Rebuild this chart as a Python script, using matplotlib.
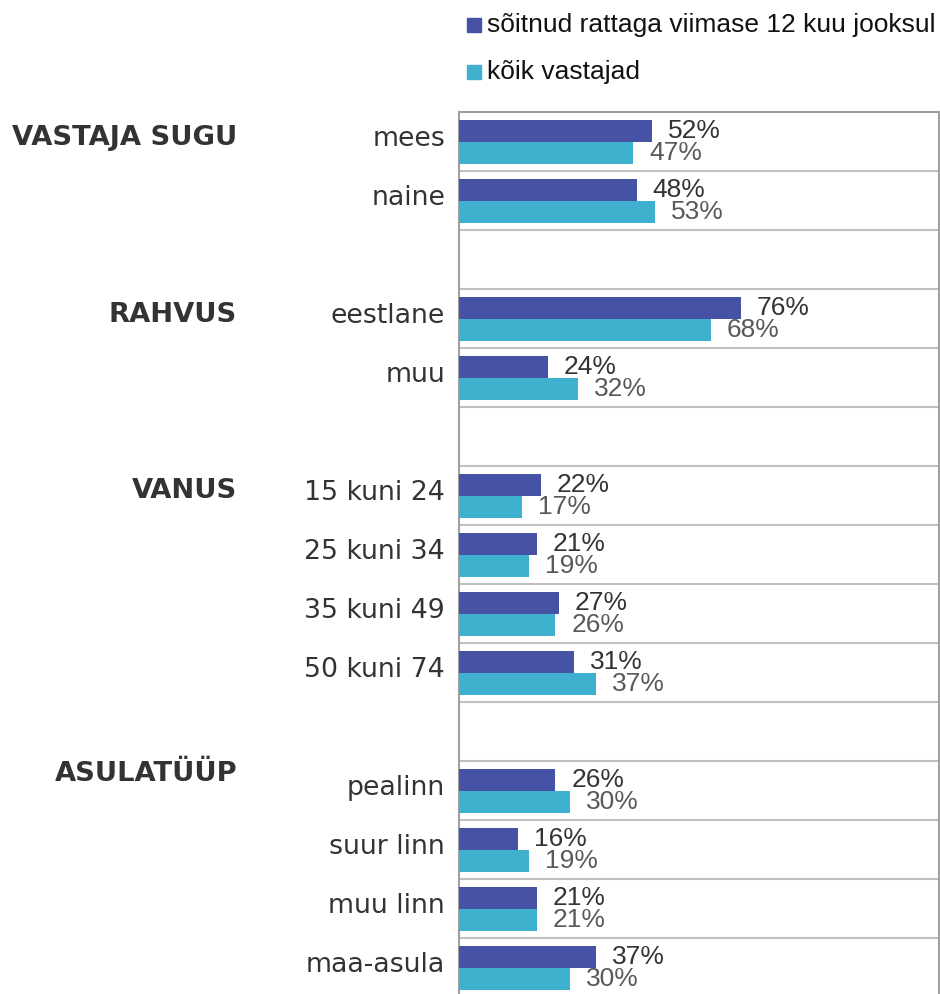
import matplotlib
matplotlib.use("Agg")
import matplotlib.pyplot as plt
from matplotlib.patches import Rectangle
import numpy as np

# ---- data ----
categories = ["mees", "naine", "",
              "eestlane", "muu", "",
              "15 kuni 24", "25 kuni 34", "35 kuni 49", "50 kuni 74", "",
              "pealinn", "suur linn", "muu linn", "maa-asula"]
cyclists = [52, 48, None, 76, 24, None, 22, 21, 27, 31, None, 26, 16, 21, 37]
all_resp = [47, 53, None, 68, 32, None, 17, 19, 26, 37, None, 30, 19, 21, 30]
groups = ["VASTAJA SUGU", "RAHVUS", "VANUS", "ASULATÜÜP"]
series_names = ["sõitnud rattaga viimase 12 kuu jooksul", "kõik vastajad"]

# ---- style ----
W, H = 940, 994
C_BLUE = "#4653A5"
C_CYAN = "#3FB1CE"
fig = plt.figure(figsize=(W / 100, H / 100), dpi=100)

ax_left, ax_right, ax_top, ax_bot = 459, 939, 112, 997
ax = fig.add_axes([ax_left / W, 1 - ax_bot / H, (ax_right - ax_left) / W, (ax_bot - ax_top) / H])

n = len(categories)
ax.set_xlim(0, 129.5)
ax.set_ylim(n, 0)

bh = 22 / 59
for i in range(n):
    if cyclists[i] is not None:
        ax.barh(i + 8 / 59, cyclists[i], height=bh, align="edge", color=C_BLUE, zorder=3)
        ax.barh(i + 30 / 59, all_resp[i], height=bh, align="edge", color=C_CYAN, zorder=3)
        gap = 4.3
        ax.text(cyclists[i] + gap, i + 19 / 59, f"{cyclists[i]}%", va="center", ha="left",
                fontsize=19, family="Liberation Sans", color="#333333")
        ax.text(all_resp[i] + gap, i + 41 / 59, f"{all_resp[i]}%", va="center", ha="left",
                fontsize=19, family="Liberation Sans", color="#595959")
    if categories[i]:
        ax.text(-0.029, i + 0.45, categories[i], transform=ax.get_yaxis_transform(),
                ha="right", va="center", fontsize=19.3, family="DejaVu Sans", color="#333333")

for k in range(1, n):
    ax.axhline(k, color="#C0C0C0", lw=1.5, zorder=1)

header_y = [0.44, 3.44, 6.42, 11.22]
for g, gy in zip(groups, header_y):
    ax.text(-0.4625, gy, g, transform=ax.get_yaxis_transform(), ha="right", va="center",
            fontsize=19.7, fontweight="bold", family="DejaVu Sans", color="#333333")

ax.set_xticks([])
ax.set_yticks([])
for s in ax.spines.values():
    s.set_color("#A0A0A0")
    s.set_linewidth(1.5)
ax.spines["bottom"].set_visible(False)

# legend
for j, (name, col) in enumerate(zip(series_names, [C_BLUE, C_CYAN])):
    cy = 25 + j * 47
    fig.add_artist(Rectangle((467 / W, 1 - (cy + 7) / H), 14 / W, 14 / H,
                             transform=fig.transFigure, color=col))
    fig.text(487 / W, 1 - cy / H, name, ha="left", va="center", fontsize=19,
             family="Liberation Sans", color="#111111")

fig.savefig("out.png", dpi=100)
